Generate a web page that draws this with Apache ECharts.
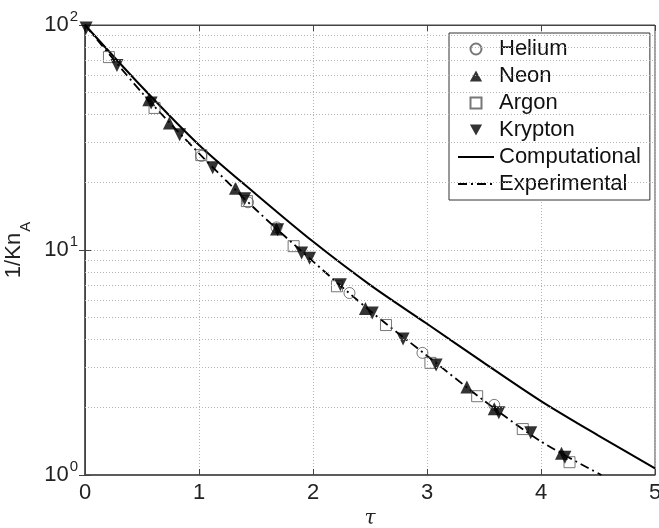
<!DOCTYPE html>
<html>
<head>
<meta charset="utf-8">
<script src="https://cdn.jsdelivr.net/npm/echarts@6.0.0/dist/echarts.min.js"></script>
<style>
html, body { margin: 0; padding: 0; background: #fff; }
#chart { width: 659px; height: 528px; }
</style>
</head>
<body>
<div id="chart"></div>
<script>
// markers, [tau, 1/Kn_A]
var heliumData = [[1.02, 26.2], [1.43, 16.3], [1.68, 12.6], [2.32, 6.44], [2.96, 3.49], [3.59, 2.05]];
var neonData = [[0.56, 46.5], [0.74, 36.7], [1.32, 18.8], [1.68, 12.4], [2.46, 5.5], [3.35, 2.46], [3.59, 1.97], [4.18, 1.25]];
var argonData = [[0.21, 72], [0.61, 42.8], [1.02, 26.4], [1.42, 16.5], [1.83, 10.4], [2.21, 6.9], [2.64, 4.64], [3.03, 3.15], [3.44, 2.24], [3.84, 1.6], [4.25, 1.14]];
var kryptonData = [[0.01, 97], [0.28, 66], [0.58, 45], [0.83, 32.5], [1.12, 23.2], [1.4, 16.9], [1.69, 12.3], [1.9, 9.7], [1.97, 9.2], [2.24, 7.0], [2.52, 5.25], [2.79, 4.02], [3.08, 3.08], [3.63, 1.89], [3.91, 1.54], [4.21, 1.2]];

var compTau = [0, 0.5, 1, 1.5, 2, 2.5, 3, 3.5, 4, 4.5, 5];
var compVal = [100, 53, 29.3, 17.7, 10.9, 7.0, 4.7, 3.15, 2.13, 1.5, 1.07];
var expTau = [0, 0.5, 1, 1.5, 2, 2.5, 3, 3.5, 4, 4.53];
var expVal = [100, 50, 26.9, 15.1, 8.9, 5.37, 3.39, 2.14, 1.41, 1.0];

var xTicks = [0, 1, 2, 3, 4, 5];
var yMinorTicks = [2, 3, 4, 5, 6, 7, 8, 9, 20, 30, 40, 50, 60, 70, 80, 90];
var legendNames = ['Helium', 'Neon', 'Argon', 'Krypton', 'Computational', 'Experimental'];

// legend marker shapes (keep them square like the plot markers)
var legendIcons = {
    Neon: 'path://M5,0L10,9L0,9Z',
    Argon: 'path://M0,0L10,0L10,10L0,10Z',
    Krypton: 'path://M0,0L10,0L5,9Z'
};

function pairs(xs, ys) {
    var out = [];
    for (var i = 0; i < xs.length; i++) {
        out.push([xs[i], ys[i]]);
    }
    return out;
}

var font = 'Liberation Sans, Arial, sans-serif';
var axisColor = '#444';
var gridLine = { color: '#b5b5b5', type: [1, 2], width: 1 };

var chart = echarts.init(document.getElementById('chart'));

var option = {
    animation: false,
    backgroundColor: '#fff',
    grid: {
        left: 85,
        top: 25,
        right: 4,
        bottom: 53,
        containLabel: false,
        outerBoundsMode: 'none',
        show: true,
        borderColor: axisColor,
        borderWidth: 1
    },
    legend: {
        data: legendNames.map(function (n) {
            if (legendIcons[n]) {
                return { name: n, icon: legendIcons[n] };
            }
            return { name: n };
        }),
        orient: 'vertical',
        left: 449,
        top: 33,
        padding: [5, 9, 5, 8],
        itemGap: 5,
        itemWidth: 36,
        itemHeight: 11,
        backgroundColor: '#fff',
        borderColor: '#333',
        borderWidth: 1,
        textStyle: { fontSize: 22, color: '#111', fontFamily: font }
    },
    xAxis: [{
        type: 'value',
        min: 0,
        max: 5,
        interval: 1,
        position: 'bottom',
        axisLine: { show: true, lineStyle: { color: axisColor, width: 1.5 } },
        axisTick: { inside: true, length: 6, lineStyle: { color: axisColor } },
        splitLine: { show: true, lineStyle: gridLine },
        axisLabel: {
            fontSize: 22, color: '#222', fontFamily: font, margin: 7,
            formatter: function (v) { return xTicks.indexOf(v) >= 0 ? String(v) : ''; }
        },
        name: 'τ',
        nameLocation: 'middle',
        nameGap: 24,
        nameTextStyle: { fontFamily: 'DejaVu Serif', fontStyle: 'italic', fontSize: 20, color: '#222' }
    }, {
        type: 'value',
        min: 0,
        max: 5,
        interval: 1,
        position: 'top',
        axisLine: { show: true, lineStyle: { color: axisColor, width: 1 } },
        axisTick: { inside: true, length: 6, lineStyle: { color: axisColor } },
        axisLabel: { show: false },
        splitLine: { show: false }
    }],
    yAxis: [{
        type: 'log',
        logBase: 10,
        min: 1,
        max: 100,
        position: 'left',
        axisLine: { show: true, lineStyle: { color: axisColor, width: 1.5 } },
        axisTick: { inside: true, length: 6, lineStyle: { color: axisColor } },
        splitLine: { show: true, lineStyle: gridLine },
        axisLabel: {
            margin: 7,
            formatter: function (v) {
                return '{b|10}{s|' + Math.round(Math.log10(v)) + '}';
            },
            rich: {
                b: { fontSize: 22, lineHeight: 22, color: '#222', fontFamily: font },
                s: { fontSize: 15, lineHeight: 15, color: '#222', fontFamily: font, verticalAlign: 'bottom', padding: [0, 0, 12, 1] }
            }
        },
        name: '{n|1/Kn}{sub|A}',
        nameLocation: 'middle',
        nameRotate: 90,
        nameGap: 46,
        nameTextStyle: {
            rich: {
                n: { fontSize: 22, lineHeight: 22, color: '#222', fontFamily: font },
                sub: { fontSize: 15, lineHeight: 15, color: '#222', fontFamily: font, verticalAlign: 'top', padding: [15, 0, 0, 1] }
            }
        }
    }, {
        type: 'log',
        logBase: 10,
        min: 1,
        max: 100,
        position: 'right',
        axisLine: { show: true, lineStyle: { color: axisColor, width: 1 } },
        axisTick: { inside: true, length: 6, lineStyle: { color: axisColor } },
        axisLabel: { show: false },
        splitLine: { show: false }
    }],
    series: [{
        name: 'Computational',
        type: 'line',
        data: pairs(compTau, compVal),
        smooth: 0.3,
        symbol: 'none',
        z: 2,
        lineStyle: { color: '#000', width: 2 },
        itemStyle: { color: 'rgba(0,0,0,0)' },
        markLine: {
            silent: true,
            symbol: 'none',
            label: { show: false },
            lineStyle: gridLine,
            data: yMinorTicks.map(function (v) { return { yAxis: v }; })
        }
    }, {
        name: 'Experimental',
        type: 'line',
        data: pairs(expTau, expVal),
        smooth: 0.3,
        symbol: 'none',
        z: 2,
        lineStyle: { color: '#000', width: 1.8, type: [9, 4, 2, 4] },
        itemStyle: { color: 'rgba(0,0,0,0)' }
    }, {
        name: 'Helium',
        type: 'scatter',
        data: heliumData,
        symbol: 'circle',
        symbolSize: 11,
        z: 3,
        itemStyle: { color: 'rgba(255,255,255,0)', borderColor: '#555', borderWidth: 1 }
    }, {
        name: 'Neon',
        type: 'scatter',
        data: neonData,
        symbol: 'triangle',
        symbolSize: 13,
        z: 3,
        itemStyle: { color: '#000' }
    }, {
        name: 'Argon',
        type: 'scatter',
        data: argonData,
        symbol: 'rect',
        symbolSize: 11,
        z: 3,
        itemStyle: { color: 'rgba(255,255,255,0)', borderColor: '#555', borderWidth: 1 }
    }, {
        name: 'Krypton',
        type: 'scatter',
        data: kryptonData,
        symbol: 'triangle',
        symbolRotate: 180,
        symbolSize: 13,
        z: 3,
        itemStyle: { color: '#000' }
    }]
};

chart.setOption(option);
</script>
</body>
</html>
